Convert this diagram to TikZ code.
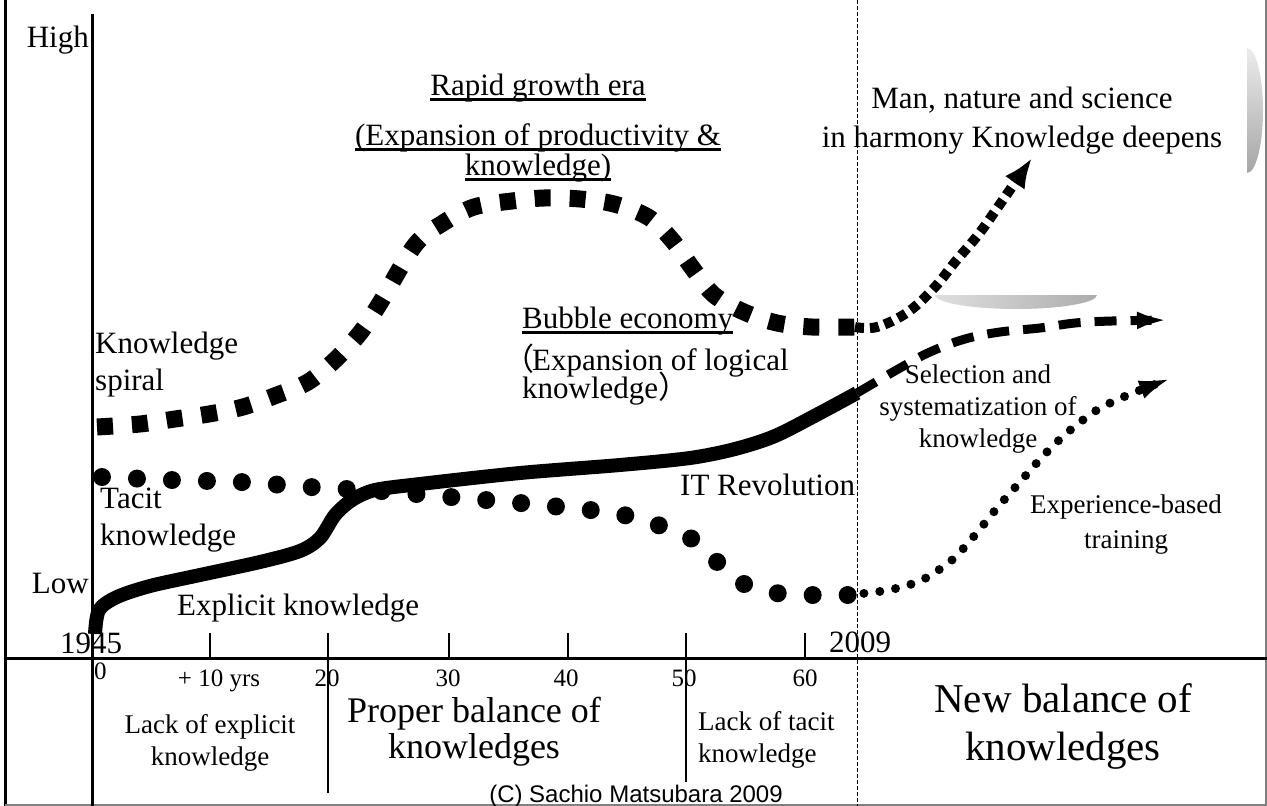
\documentclass[tikz,border=0pt]{standalone}
\usepackage{fontspec}
\setmainfont{Liberation Serif}
\newfontfamily\cjk{Noto Sans CJK JP}
\newfontfamily\arialfont{Liberation Sans}
\newsavebox\ulsave
\newcommand\ulbox[1]{\sbox\ulsave{#1}\rlap{\rule[-5.5pt]{\wd\ulsave}{3pt}}\usebox\ulsave}
\setlength{\lineskiplimit}{-100pt}
\usetikzlibrary{arrows.meta}

\begin{document}
\begin{tikzpicture}[x=1pt, y=-1pt,
  font=\fontsize{31}{37}\selectfont,
  lbl/.style={inner sep=0pt, align=left, anchor=base west},
  clbl/.style={inner sep=0pt, align=center, anchor=base},
  ticklbl/.style={inner sep=0pt, anchor=base, font=\fontsize{25}{25}\selectfont},
  small/.style={font=\fontsize{27}{32}\selectfont},
  spiral/.style={line width=17pt, dash pattern=on 16pt off 19pt},
  spiralthin/.style={line width=10pt, dash pattern=on 9pt off 6pt},
  tacit/.style={line width=18pt, line cap=round, dash pattern=on 0pt off 35pt},
  tacitthin/.style={line width=9pt, line cap=round, dash pattern=on 0pt off 16pt},
  explicit/.style={line width=14pt},
  explicitdash/.style={line width=9pt, dash pattern=on 22pt off 14pt}]
  \useasboundingbox (0,0) rectangle (1267,806);

  % frame, axes and era marks
  \draw[line width=3pt] (5,0) -- (5,806);
  \draw[gray, line width=2pt] (1266,0) -- (1266,806);
  \draw[gray, line width=2pt] (5,805) -- (1267,805);
  \draw[line width=3pt] (5,658) -- (1267,658);
  \draw[line width=3pt] (92,14) -- (92,806);
  \foreach \tx in {210,328,449,568,686,805}
    \draw[line width=2pt] (\tx,633) -- (\tx,658);
  \draw[line width=2.5pt] (328,658) -- (328,793);
  \draw[line width=2.5pt] (686,658) -- (686,782);
  \draw[line width=0.8pt, dash pattern=on 4pt off 2pt] (857,0) -- (857,806);

  % grey shapes
  \shade[top color=gray!15, bottom color=gray!70]
    (1247,48) arc[start angle=-90, end angle=90, x radius=16, y radius=62.5] -- cycle;
  \shade[left color=gray!25, right color=gray!65]
    (935,295) arc[start angle=180, end angle=0, x radius=81, y radius=14] -- cycle;

  % knowledge spiral
  \draw[spiral] plot[smooth, tension=0.55] coordinates {(97,427) (140,424) (175,419)
    (209,414) (243,407) (277,395) (308,382) (335,360) (360,333) (380,303) (415,245)
    (443,223) (474,207) (512,201) (544,198) (580,199) (614,204) (648,217) (672,240)
    (693,269) (714,295) (744,312) (777,323) (812,327) (855,327)};
  \draw[spiralthin, -{Latex[length=30pt,width=24pt]}] plot[smooth, tension=0.6]
    coordinates {(855,327) (877,327) (908,312) (935,287) (955,262) (978,235)
    (998,207) (1032,158)};

  % explicit knowledge
  \draw[explicit] plot[smooth, tension=0.5] coordinates {(95,634) (99,610) (117,597)
    (150,586) (200,575) (260,562) (300,551) (320,538) (335,515) (352,500) (375,490)
    (420,484) (520,473) (620,465) (690,458) (735,449) (775,436) (820,413) (857,393)};
  \draw[explicitdash, -{Latex[length=35pt,width=17pt]}] plot[smooth, tension=0.6]
    coordinates {(857,393) (900,368) (930,352) (965,339) (1000,332) (1040,328)
    (1075,323) (1112,321) (1172,320)};

  % tacit knowledge
  \draw[tacit] plot[smooth, tension=0.5] coordinates {(102,477) (171,480) (240,482)
    (310,487) (380,491) (450,497) (520,503) (590,510) (624,515) (658,525) (689,537)
    (715,560) (742,583) (776,593) (810,595) (848,595)};
  \draw[tacitthin, -{Latex[length=33pt,width=19pt]}] plot[smooth, tension=0.5]
    coordinates {(848,595) (889,590) (922,580) (952,560) (975,535) (997,508)
    (1020,482) (1044,455) (1068,432) (1097,410) (1128,395) (1172,378)};

  % axis labels
  \node[inner sep=0pt, anchor=base east] (high) at (89,47) {High};
  \node[inner sep=0pt, anchor=base east] (low) at (89,593) {Low};
  \node[inner sep=0pt, anchor=base] (start) at (91,653) {1945};
  \node[inner sep=0pt, anchor=base] (now) at (860,652) {2009};
  \node[ticklbl, anchor=base west] (t0) at (94,679) {0};
  \node[ticklbl] (t10) at (219,686) {+ 10 yrs};
  \node[ticklbl] (t20) at (327,686) {20};
  \node[ticklbl] (t30) at (448,686) {30};
  \node[ticklbl] (t40) at (566,686) {40};
  \node[ticklbl] (t50) at (684,686) {50};
  \node[ticklbl] (t60) at (805,686) {60};

  % curve and era labels (base = last line)
  \node[clbl] (rapid) at (538,95) {\ulbox{Rapid growth era}};
  \node[clbl, font=\fontsize{31}{30}\selectfont] (rapidsub) at (538,175)
    {\ulbox{(Expansion of productivity \&}\\\ulbox{knowledge)}};
  \node[clbl, font=\fontsize{31}{39}\selectfont] (harmony) at (1022,147)
    {Man, nature and science\\in harmony Knowledge deepens};
  \node[lbl] (bubble) at (522,328) {\ulbox{Bubble economy}};
  \node[lbl, font=\fontsize{31}{28}\selectfont] (logical) at (522,398)
    {{\cjk\hspace*{-19pt}（\hspace{-2pt}}Expansion of logical\\knowledge{\cjk ）}};
  \node[lbl] (spirallbl) at (95,390) {Knowledge\\spiral};
  \node[lbl] (tacitlbl) at (100,545) {Tacit\\knowledge};
  \node[lbl] (explicitlbl) at (177,615) {Explicit knowledge};
  \node[lbl] (itrev) at (680,495) {IT Revolution};
  \node[clbl, small] (select) at (978,447) {Selection and\\systematization of\\knowledge};
  \node[clbl, font=\fontsize{27}{35}\selectfont] (training) at (1126,548)
    {Experience-based\\training};

  % bottom panel
  \node[clbl, small] (lackexp) at (210,765) {Lack of explicit\\knowledge};
  \node[clbl, font=\fontsize{36}{36}\selectfont] (proper) at (474,758)
    {Proper balance of\\knowledges};
  \node[lbl, small] (lacktac) at (698,762) {Lack of tacit\\knowledge};
  \node[clbl, font=\fontsize{41}{48}\selectfont] (newbal) at (1063,760)
    {New balance of\\knowledges};
  \node[inner sep=0pt, anchor=base, font=\arialfont\fontsize{24}{24}\selectfont] (copy)
    at (636,802) {(C) Sachio Matsubara 2009};
\end{tikzpicture}
\end{document}
